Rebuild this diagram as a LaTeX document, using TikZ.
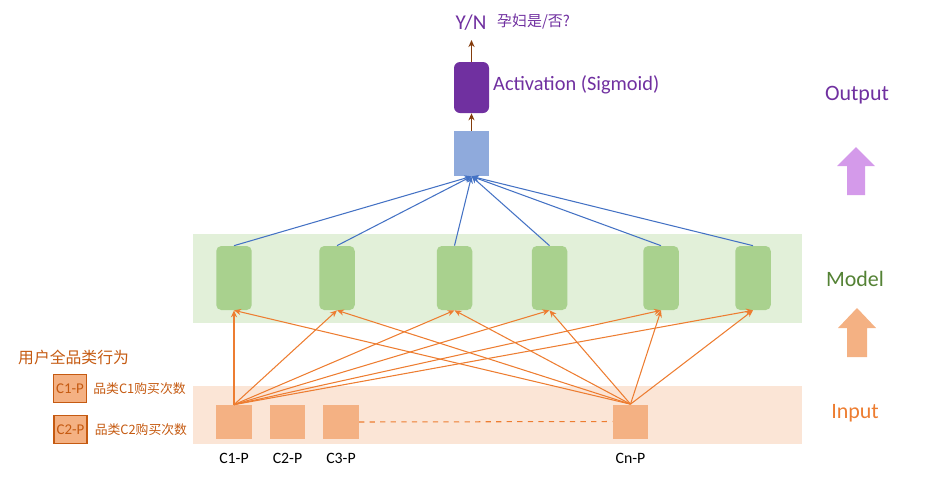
\documentclass[tikz,border=0pt]{standalone}
\usepackage{fontspec}
\setmainfont{Carlito}
\newfontfamily\cjk{Noto Sans CJK SC}
\usetikzlibrary{arrows.meta}
\definecolor{inband}{HTML}{FBE5D6}
\definecolor{modelband}{HTML}{E2F0D9}
\definecolor{infill}{HTML}{F4B183}
\definecolor{hidfill}{HTML}{A9D18E}
\definecolor{sumfill}{HTML}{8FAADC}
\definecolor{actfill}{HTML}{7030A0}
\definecolor{orangeline}{HTML}{ED7D31}
\definecolor{blueline}{HTML}{4472C4}
\definecolor{brownline}{HTML}{843C0C}
\definecolor{legendtxt}{HTML}{C55A11}
\definecolor{modeltxt}{HTML}{548235}
\definecolor{outarrow}{HTML}{D49AEA}
\begin{document}
\begin{tikzpicture}[x=0.02cm,y=-0.02cm,
  inbox/.style={fill=infill,inner sep=0,minimum width=0.71cm,minimum height=0.68cm},
  hidbox/.style={fill=hidfill,rounded corners=0.1cm,inner sep=0,minimum width=0.71cm,minimum height=1.28cm},
  legbox/.style={fill=infill,draw=legendtxt,line width=0.8pt,inner sep=0,minimum width=0.66cm,minimum height=0.57cm,text=legendtxt,font=\fontsize{8.5}{9}\selectfont},
  uparrow/.style={-{Stealth[length=4pt,width=3.5pt]},line width=0.6pt},
  sidetxt/.style={font=\fontsize{12.5}{14}\selectfont}]
\useasboundingbox (0,0) rectangle (940,485);
% bands
\fill[inband] (193,386) rectangle (802,444);
\fill[modelband] (193,234) rectangle (802,323);
% input layer
\node[inbox] (c1) at (234,422) {};
\node[inbox] (c2) at (287.5,422) {};
\node[inbox] (c3) at (341,422) {};
\node[inbox] (cn) at (630.5,421.5) {};
\foreach \n/\t in {c1/C1-P,c2/C2-P,c3/C3-P,cn/Cn-P}
  \node[font=\fontsize{9}{10}\selectfont] (\n lbl) at (\n |- 0,458) {\t};
\draw[orangeline,dashed,line width=0.6pt] (c3.east) -- (cn.west);
% hidden layer
\foreach \i/\x in {1/234,2/337,3/454.5,4/549.5,5/661,6/753}
  \node[hidbox] (h\i) at (\x,278) {};
% output part
\node[fill=sumfill,inner sep=0,minimum width=0.7cm,minimum height=0.9cm] (sum) at (471.5,153.5) {};
\node[fill=actfill,rounded corners=0.12cm,inner sep=0,minimum width=0.7cm,minimum height=1.02cm] (act) at (471.5,87.5) {};
\node[text=actfill,font=\fontsize{11.6}{13}\selectfont,anchor=west] (actlbl) at (487,85) {Activation (Sigmoid)};
\node[text=actfill,font=\fontsize{12}{13}\selectfont] (yn) at (471,23) {Y/N};
\node[text=actfill,font=\cjk\fontsize{8.5}{10}\selectfont,anchor=west] (ynlbl) at (491,22) {孕妇是/否?};
\coordinate (top) at (471.5,40);
\draw[uparrow,brownline,line width=0.8pt] (sum.north) -- (act.south);
\draw[uparrow,brownline,line width=0.8pt] (act.north) -- (top);
% connections
\foreach \i in {1,...,6}
  \draw[uparrow,blueline] (h\i.north) -- (sum.south);
\foreach \s in {c1,cn}
  \foreach \i in {1,...,6}
    \draw[uparrow,orangeline] (\s.north) -- (h\i.south);
% right side
\node[sidetxt,text=actfill] (outtxt) at (857,95) {Output};
\node[sidetxt,text=modeltxt] (modtxt) at (855,279) {Model};
\node[sidetxt,text=orangeline] (intxt) at (855,413) {Input};
\fill[outarrow] (856,147) -- (875,166) -- (865,166) -- (865,195) -- (847,195) -- (847,166) -- (837,166) -- cycle;
\fill[infill] (857,308) -- (876,328) -- (867,328) -- (867,357) -- (847,357) -- (847,328) -- (838,328) -- cycle;
% legend
\node[text=legendtxt,font=\cjk\fontsize{9}{11}\selectfont,anchor=west] (legtitle) at (12,357) {用户全品类行为};
\node[legbox] (leg1) at (70,388.5) {C1-P};
\node[legbox] (leg2) at (70.5,429.5) {C2-P};
\node[text=legendtxt,font=\cjk\fontsize{7.3}{9}\selectfont,anchor=west] (leg1txt) at (leg1.east) {品类C1购买次数};
\node[text=legendtxt,font=\cjk\fontsize{7.3}{9}\selectfont,anchor=west] (leg2txt) at ([xshift=0.5pt]leg2.east) {品类C2购买次数};
\end{tikzpicture}
\end{document}
